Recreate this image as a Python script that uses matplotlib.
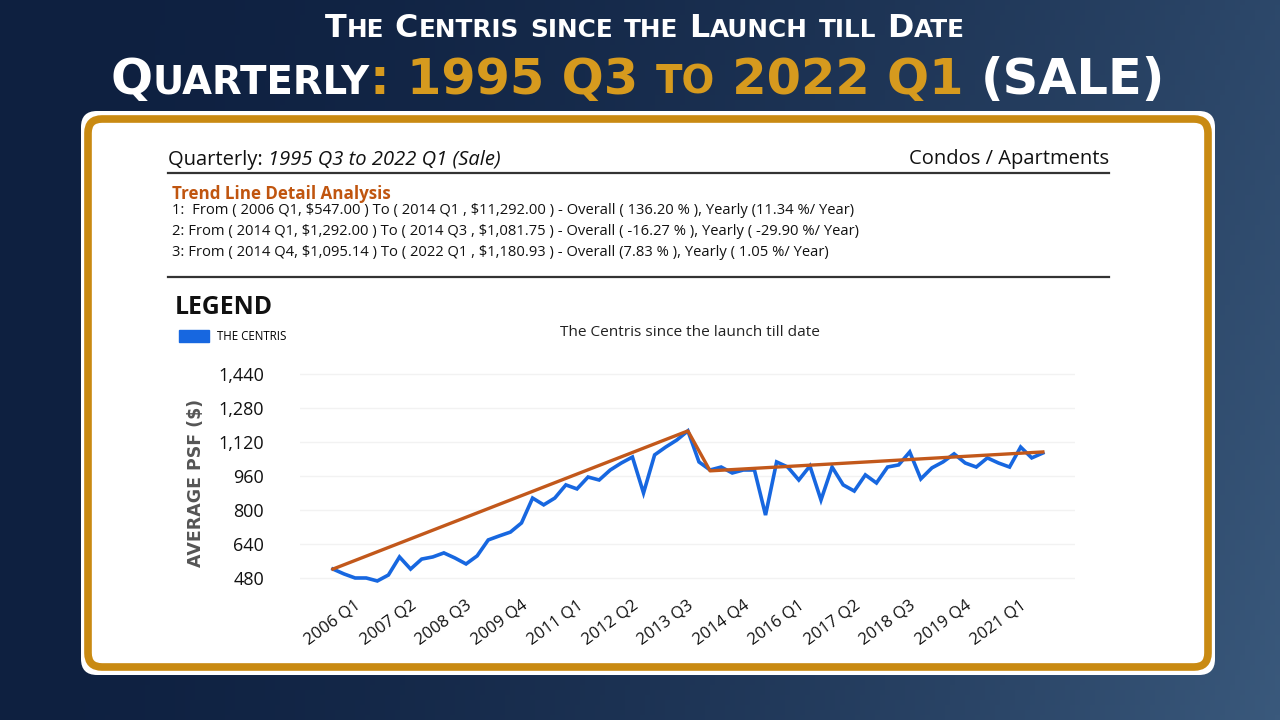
import numpy as np
import matplotlib
matplotlib.use("Agg")
import matplotlib.pyplot as plt
from matplotlib.patches import FancyBboxPatch, Patch
from matplotlib.ticker import FuncFormatter

# average psf per quarter, 2006 Q1 .. 2022 Q1
psf = [522, 499, 480, 480, 466, 494, 579, 522, 569, 579,
       598, 574, 546, 584, 659, 678, 696, 739, 856, 824,
       856, 918, 899, 955, 941, 988, 1021, 1049, 880, 1059,
       1096, 1129, 1172, 1026, 988, 1002, 974, 988, 988, 776,
       1026, 1002, 941, 1007, 847, 1002, 918, 889, 965, 927,
       1002, 1012, 1073, 946, 998, 1026, 1064, 1021, 1002, 1045,
       1021, 1002, 1096, 1045, 1068]

# trend line vertices (quarter index, value)
trend_idx = [0, 32, 34, 64]
trend_val = [522, 1172, 984, 1073]

tick_pos = [0, 5, 10, 15, 20, 25, 30, 35, 40, 45, 50, 55, 60]
tick_labels = ["2006 Q1", "2007 Q2", "2008 Q3", "2009 Q4", "2011 Q1", "2012 Q2",
               "2013 Q3", "2014 Q4", "2016 Q1", "2017 Q2", "2018 Q3", "2019 Q4", "2021 Q1"]
y_ticks = [480, 640, 800, 960, 1120, 1280, 1440]

trend_lines = [
    "1:  From ( 2006 Q1, $547.00 ) To ( 2014 Q1 , $11,292.00 ) - Overall ( 136.20 % ), Yearly (11.34 %/ Year)",
    "2: From ( 2014 Q1, $1,292.00 ) To ( 2014 Q3 , $1,081.75 ) - Overall ( -16.27 % ), Yearly ( -29.90 %/ Year)",
    "3: From ( 2014 Q4, $1,095.14 ) To ( 2022 Q1 , $1,180.93 ) - Overall (7.83 % ), Yearly ( 1.05 %/ Year)",
]

BLUE = "#1767e0"
ORANGE = "#c2581b"
GOLD = "#d69a1e"
BORDER = "#c98a12"
BODY = ["Open Sans", "DejaVu Sans"]
HEAVY = ["DejaVu Sans"]

fig = plt.figure(figsize=(12.8, 7.2), dpi=100)
r = fig.canvas.get_renderer()

# background + card, drawn in pixel coords
bg = fig.add_axes([0, 0, 1, 1])
gx = np.linspace(0, 1, 256)
gy = np.linspace(0, 1, 144)
G = 0.7 * gx[None, :] ** 1.8 + 0.3 * gy[:, None] * gx[None, :] ** 1.2
c0 = np.array([0x0e, 0x20, 0x40]) / 255
c1 = np.array([0x3a, 0x59, 0x7c]) / 255
img = c0[None, None, :] + (c1 - c0)[None, None, :] * G[:, :, None]
bg.imshow(img, extent=[0, 1280, 720, 0], aspect="auto")
bg.set_xlim(0, 1280)
bg.set_ylim(720, 0)
bg.axis("off")

bg.add_patch(FancyBboxPatch((81, 111), 1134, 564, boxstyle="round,pad=0,rounding_size=16",
                            fc="white", ec="none"))
bg.add_patch(FancyBboxPatch((88, 119), 1120, 548, boxstyle="round,pad=0,rounding_size=14",
                            fc="white", ec=BORDER, lw=5.5))


def fit(t, width_px):
    w = t.get_window_extent(r).width
    t.set_fontsize(t.get_fontsize() * width_px / w)
    return t


def small_caps(xc, y, parts, width_px, ratio=0.78):
    runs = []
    for txt, col in parts:
        for ch in txt:
            small = ch.islower()
            s = ch.upper() if small else ch
            if runs and runs[-1][1] == small and runs[-1][2] == col:
                runs[-1][0] += s
            else:
                runs.append([s, small, col])
    base = 20
    widths = []
    for s, small, col in runs:
        t = bg.text(0, 0, s, fontsize=base * (ratio if small else 1), family=HEAVY,
                    weight="bold")
        widths.append(t.get_window_extent(r).width)
        t.remove()
    k = width_px / sum(widths)
    x = xc - width_px / 2
    for (s, small, col), w in zip(runs, widths):
        bg.text(x, y, s, fontsize=base * k * (ratio if small else 1), family=HEAVY,
                weight="bold", color=col, ha="left", va="baseline")
        x += w * k


small_caps(645, 37, [("The Centris since the Launch till Date", "white")], 640)
small_caps(638, 94, [("Quarterly", "white"), (": 1995 Q3 to 2022 Q1 ", GOLD), ("(SALE)", "white")], 1055)

# header block
t1 = bg.text(168, 160, "Quarterly: ", fontsize=14.5, family=BODY, color="#111111", va="center")
w1 = t1.get_window_extent(r).width
bg.text(168 + w1, 160, "1995 Q3 to 2022 Q1 (Sale)", fontsize=14.5, family=BODY,
        style="italic", color="#111111", va="center")
bg.text(1109, 159, "Condos / Apartments", fontsize=14.5, family=BODY, color="#111111",
        ha="right", va="center")
bg.plot([168, 1109], [173, 173], color="#333333", lw=1.6)
fit(bg.text(172, 194, "Trend Line Detail Analysis", fontsize=12, family=BODY, weight="bold",
            color="#c0550f", va="center"), 219)
t = fit(bg.text(172, 211, trend_lines[0], fontsize=10, family=BODY, color="#111111",
                va="center", parse_math=False), 681)
fs = t.get_fontsize()
for i, line in enumerate(trend_lines[1:], start=1):
    bg.text(172, 211 + i * 20.5, line, fontsize=fs, family=BODY, color="#111111",
            va="center", parse_math=False)
bg.plot([168, 1109], [277, 277], color="#333333", lw=1.6)

fit(bg.text(175, 308, "LEGEND", fontsize=16, family=BODY, weight="bold", color="#111111",
            va="center"), 98)
fit(bg.text(690, 332, "The Centris since the launch till date", fontsize=11, family=BODY,
            color="#222222", ha="center", va="center"), 259)
bg.text(196, 483, "AVERAGE PSF ($)", fontsize=12.5, family=HEAVY, weight="bold",
        color="#555555", rotation=90, ha="center", va="center", parse_math=False)

fig.legend(handles=[Patch(color=BLUE, label="THE CENTRIS")], loc="upper left",
           bbox_to_anchor=(174 / 1280, 1 - 325 / 720), frameon=False,
           prop={"family": BODY, "size": 8.3}, handlelength=2.6, handleheight=1.2,
           borderaxespad=0, handletextpad=0.7)

# chart
ax = fig.add_axes([300 / 1280, 1 - 590 / 720, 775 / 1280, 225 / 720])
ax.set_facecolor("none")
x = np.arange(len(psf))
ax.plot(x, psf, color=BLUE, lw=2.6, solid_joinstyle="miter", zorder=3)
ax.plot(trend_idx, trend_val, color=ORANGE, lw=2.4, zorder=4)
ax.set_xlim(-2.97, 66.9)
ax.set_ylim(423.5, 1482)
ax.set_yticks(y_ticks)
ax.yaxis.set_major_formatter(FuncFormatter(lambda v, p: f"{v:,.0f}"))
ax.set_xticks(tick_pos)
ax.set_xticklabels(tick_labels, rotation=36, ha="center")
ax.tick_params(axis="x", length=0, pad=5, labelsize=12, labelcolor="#111111")
ax.tick_params(axis="y", length=0, pad=26, labelsize=13, labelcolor="#111111")
for lab in ax.get_xticklabels() + ax.get_yticklabels():
    lab.set_family(BODY)
ax.grid(axis="y", color="#f2f2f2", lw=1)
ax.set_axisbelow(True)
for s in ax.spines.values():
    s.set_visible(False)

fig.savefig("out.png", dpi=100)
